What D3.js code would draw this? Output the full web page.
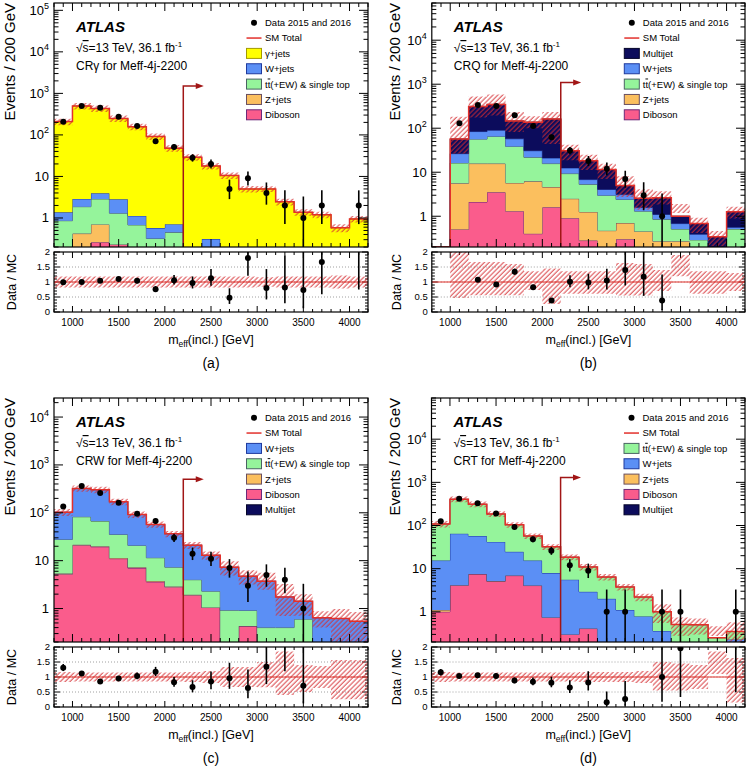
<!DOCTYPE html>
<html>
<head>
<meta charset="utf-8">
<title>Meff-4j-2200 control regions</title>
<script src="https://cdn.jsdelivr.net/npm/d3@7/dist/d3.min.js"></script>
<style>
  body { margin: 0; background: #fff; }
  svg { display: block; font-family: "Liberation Sans", Arial, Helvetica, sans-serif; }
</style>
</head>
<body>
<svg id="mainsvg" width="750" height="771"></svg>
<script>
// 200 GeV bins of m_eff(incl.)
const binEdges = [800, 1000, 1200, 1400, 1600, 1800, 2000, 2200, 2400, 2600, 2800, 3000, 3200, 3400, 3600, 3800, 4000, 4200];
const xTickLabels = [1000, 1500, 2000, 2500, 3000, 3500, 4000];
const ratioTickLabels = [0, 0.5, 1, 1.5, 2];
const cutValue = 2200;

// (a) CR gamma
const aData      = [207, 495, 450, 272, 163, 70, 51, 28, 20, 5, 9, 4, 2, 1, 2, 0, 2];
const aGammaJets = [207.6, 494.1, 428.1, 245.2, 155.9, 91.4, 47.3, 29, 17.5, 10.6, 5.0, 5.0, 2.45, 1.37, 1.2, 0.58, 0.95];
const aWJets     = [0.51, 1.0, 1.06, 1.52, 0.44, 0.25, 0.26, 0, 0.31, 0, 0, 0, 0, 0, 0, 0, 0];
const aTtbar     = [0.86, 1.45, 2.17, 1.07, 0.68, 0.32, 0.45, 0, 0, 0, 0, 0, 0, 0, 0, 0, 0];
const aZJets     = [0, 0.42, 0.44, 0, 0, 0, 0, 0, 0, 0, 0, 0, 0, 0, 0, 0, 0];
const aDiboson   = [0, 0, 0.26, 0.23, 0, 0, 0, 0, 0, 0, 0, 0, 0, 0, 0, 0, 0];
const aUncUp     = [0.18, 0.18, 0.18, 0.18, 0.18, 0.18, 0.18, 0.18, 0.18, 0.18, 0.18, 0.16, 0.18, 0.18, 0.18, 0.22, 0.18];
const aUncDn     = [0.18, 0.18, 0.18, 0.18, 0.18, 0.18, 0.18, 0.18, 0.18, 0.18, 0.18, 0.16, 0.18, 0.18, 0.18, 0.22, 0.18];

// (b) CRQ
const bData      = [0, 130, 336, 320, 196, 113, 62, 31, 18, 12, 7, 3, 1, 0, 0, 0, 0];
const bMultijet  = [0, 30.6, 229, 258, 88.5, 106.2, 141, 18.3, 11.5, 7.4, 1.9, 0.98, 1.53, 0.32, 0.29, 0.34, 0.71];
const bWJets     = [0, 10.2, 27.5, 25, 18.9, 9, 5.3, 3.2, 1.5, 1.1, 0.7, 0.27, 0.25, 0.17, 0.1, 0, 0.05];
const bTtbar     = [0, 10.6, 40.8, 49.3, 32.9, 15.6, 11.1, 6.8, 4.05, 2.5, 1.7, 0.85, 0.58, 0.24, 0.29, 0, 0.51];
const bZJets     = [0, 5.1, 13.6, 12.2, 4.4, 5.8, 3.0, 1.6, 0.97, 0.47, 0.4, 0.45, 0.27, 0.27, 0, 0, 0];
const bDiboson   = [0, 0.5, 2.1, 3.5, 1.3, 0.4, 1.6, 0.9, 0.28, 0, 0.3, 0, 0, 0, 0, 0, 0];
const bUncUp     = [0, 2.2, 0.67, 0.67, 0.6, 0.36, 0.45, 0.36, 0.36, 0.36, 0.63, 0.6, 0.4, 0.9, 0.36, 0.36, 0.3];
const bUncDn     = [0, 0.53, 0.44, 0.44, 0.44, 0.27, 0.73, 0.39, 0.39, 0.39, 0.45, 0.45, 0.3, -0.19, 0.39, 0.39, 0.3];

// (c) CRW
const cData      = [135, 361, 258, 162, 95, 67, 30, 14, 11, 7, 3, 5, 4, 1, 0, 0, 0];
const cWJets     = [75.3, 240.5, 236, 134.8, 71.2, 45.5, 29.1, 17.1, 10.7, 6.38, 3.83, 3.33, 1.35, 0.82, 0.64, 0.62, 0.54];
const cTtbar     = [22.3, 60.9, 46.9, 23.8, 13.5, 7.75, 4.4, 2.05, 1.25, 0.92, 0.48, 0.4, 0.4, 0.6, 0, 0, 0];
const cZJets     = [0.2, 0.6, 0.6, 0.4, 0.3, 0.15, 0.1, 0.05, 0, 0, 0, 0, 0, 0, 0, 0, 0];
const cDiboson   = [5.2, 21, 19.5, 11, 7, 3.6, 2.8, 1.9, 1.05, 0, 0.43, 0, 0, 0, 0, 0, 0];
const cMultijet  = [0, 0, 0, 0, 0, 0, 0, 0, 0, 0, 0, 0, 0, 0, 0, 0, 0];
const cUncUp     = [0.17, 0.15, 0.15, 0.15, 0.15, 0.15, 0.15, 0.17, 0.2, 0.33, 0.33, 0.5, 0.85, 0.4, 0.37, 0.57, 0.57];
const cUncDn     = [0.17, 0.15, 0.15, 0.15, 0.15, 0.15, 0.15, 0.17, 0.2, 0.33, 0.33, 0.34, 0.6, 0.5, 0.37, 0.74, 0.74];

// (d) CRT
const dData      = [126, 419, 329, 191, 92, 48, 26, 12, 9, 1, 1, 0, 1, 1, 0, 0, 1];
const dTtbar     = [93.6, 341.4, 255, 143.3, 79.4, 41.6, 24.1, 12.94, 8.09, 4.4, 2.68, 1.42, 0.64, 0.36, 0.4, 0.15, 0.12];
const dWJets     = [14.3, 60.45, 49.45, 36.55, 17.65, 11.32, 7.16, 5.26, 2.5, 2.0, 1.1, 0.78, 0.36, 0.15, 0.1, 0.1, 0.23];
const dZJets     = [0.1, 0.05, 0.05, 0.05, 0.05, 0.02, 0, 0, 0, 0, 0, 0, 0, 0, 0, 0, 0];
const dDiboson   = [1.0, 4.1, 7.5, 5.1, 6.9, 4.06, 0.74, 0.3, 0.41, 0, 0, 0, 0, 0, 0, 0, 0];
const dMultijet  = [0, 0, 0, 0, 0, 0, 0, 0, 0, 0, 0, 0, 0, 0, 0, 0, 0];
const dUncUp     = [0.17, 0.15, 0.15, 0.15, 0.15, 0.15, 0.15, 0.15, 0.17, 0.17, 0.17, 0.2, 0.5, 0.45, 0.4, 0.85, 0.63];
const dUncDn     = [0.17, 0.15, 0.15, 0.15, 0.15, 0.15, 0.15, 0.15, 0.17, 0.17, 0.17, 0.2, 0.45, 0.45, 0.4, -0.1, 0.85];

const procs = {
    gamma:    { label: 'γ+jets',   fill: '#ffff00', stroke: '#a39a00' },
    wjets:    { label: 'W+jets',   fill: '#5b8ff5', stroke: '#1f3a9e' },
    ttbar:    { label: 'tt',       fill: '#95f49b', stroke: '#4a6363' },
    zjets:    { label: 'Z+jets',   fill: '#fbbf5e', stroke: '#6b4f5f' },
    diboson:  { label: 'Diboson',  fill: '#fa5c8c', stroke: '#6b2a78' },
    multijet: { label: 'Multijet', fill: '#0c0c5c', stroke: '#05052a' }
};

// legend order = top of stack first
const panels = [
    { id: 'a', tag: '(a)', region: 'CRγ for Meff-4j-2200', x0: 54, x1: 368, top: 3, yDomain: [0.2, 1.5e5], arrowTop: 1500,
      titleX: 15, data: aData, unc: [aUncUp, aUncDn],
      stack: [['gamma', aGammaJets], ['wjets', aWJets], ['ttbar', aTtbar], ['zjets', aZJets], ['diboson', aDiboson]] },
    { id: 'b', tag: '(b)', region: 'CRQ for Meff-4j-2200', x0: 431.8, x1: 745, top: 3, yDomain: [0.2, 7e4], arrowTop: 1100,
      titleX: 400, data: bData, unc: [bUncUp, bUncDn],
      stack: [['multijet', bMultijet], ['wjets', bWJets], ['ttbar', bTtbar], ['zjets', bZJets], ['diboson', bDiboson]] },
    { id: 'c', tag: '(c)', region: 'CRW for Meff-4j-2200', x0: 54, x1: 368, top: 398, yDomain: [0.2, 2.5e4], arrowTop: 500,
      titleX: 15, data: cData, unc: [cUncUp, cUncDn],
      stack: [['wjets', cWJets], ['ttbar', cTtbar], ['zjets', cZJets], ['diboson', cDiboson], ['multijet', cMultijet]] },
    { id: 'd', tag: '(d)', region: 'CRT for Meff-4j-2200', x0: 431.5, x1: 745, top: 398, yDomain: [0.2, 9e4], arrowTop: 1300,
      titleX: 400, data: dData, unc: [dUncUp, dUncDn],
      stack: [['ttbar', dTtbar], ['wjets', dWJets], ['zjets', dZJets], ['diboson', dDiboson], ['multijet', dMultijet]] }
];

const svg = d3.select('#mainsvg');
const defs = svg.append('defs');
const hatchColor = '#d42a2e';
defs.append('pattern').attr('id', 'hatch').attr('patternUnits', 'userSpaceOnUse')
    .attr('width', 3.4).attr('height', 3.4).attr('patternTransform', 'rotate(45)')
    .append('line').attr('x1', 1).attr('y1', 0).attr('x2', 1).attr('y2', 3.4)
    .attr('stroke', hatchColor).attr('stroke-width', 0.9);

const smColor = '#e3302b';
const arrowColor = '#a11616';

// 68% Poisson interval limits (Wilson-Hilferty approximation)
function poissonLow(n) {
    if (n <= 0) return 0;
    const t = 1 - 1 / (9 * n) - 1 / (3 * Math.sqrt(n));
    return n * t * t * t;
}
function poissonHigh(n) {
    const m = n + 1;
    const t = 1 - 1 / (9 * m) + 1 / (3 * Math.sqrt(m));
    return m * t * t * t;
}

function drawPanel(p) {
    const nb = binEdges.length - 1;
    const mainBottom = p.top + 244;
    const ratioTop = mainBottom + 5;
    const ratioBottom = ratioTop + 60;
    const x = d3.scaleLinear().domain([800, 4200]).range([p.x0, p.x1]);
    const y = d3.scaleLog().domain(p.yDomain).range([mainBottom, p.top]).clamp(true);
    const yv = v => y(Math.max(v, 1e-4));
    const yr = d3.scaleLinear().domain([0, 2]).range([ratioBottom, ratioTop]);
    const g = svg.append('g');

    defs.append('clipPath').attr('id', 'clipm' + p.id).append('rect')
        .attr('x', p.x0).attr('y', p.top).attr('width', p.x1 - p.x0).attr('height', mainBottom - p.top);
    defs.append('clipPath').attr('id', 'clipr' + p.id).append('rect')
        .attr('x', p.x0).attr('y', ratioTop).attr('width', p.x1 - p.x0).attr('height', ratioBottom - ratioTop);

    const plot = g.append('g').attr('clip-path', `url(#clipm${p.id})`);

    // stacked backgrounds, bottom first
    const total = d3.range(nb).map(i => d3.sum(p.stack, s => s[1][i]));
    let lower = new Array(nb).fill(0);
    p.stack.slice().reverse().forEach(([key, vals]) => {
        const upper = lower.map((l, i) => l + vals[i]);
        const pts = [];
        for (let i = 0; i < nb; i++) {
            pts.push({ x: binEdges[i], lo: lower[i], hi: upper[i] });
            pts.push({ x: binEdges[i + 1], lo: lower[i], hi: upper[i] });
        }
        plot.append('path')
            .attr('d', d3.area().x(d => x(d.x)).y0(d => yv(d.lo)).y1(d => yv(d.hi))(pts))
            .attr('fill', procs[key].fill);
        plot.append('path')
            .attr('d', d3.line().x(d => x(d.x)).y(d => yv(d.hi))(pts))
            .attr('fill', 'none').attr('stroke', procs[key].stroke).attr('stroke-width', 1);
        lower = upper;
    });

    // SM uncertainty band + total
    const bandPts = [];
    const totPts = [];
    for (let i = 0; i < nb; i++) {
        const t = total[i];
        const lo = t > 0 ? t * (1 - p.unc[1][i]) : 0;
        const hi = t > 0 ? t * (1 + p.unc[0][i]) : 0;
        bandPts.push({ x: binEdges[i], lo, hi }, { x: binEdges[i + 1], lo, hi });
        totPts.push({ x: binEdges[i], v: t }, { x: binEdges[i + 1], v: t });
    }
    plot.append('path')
        .attr('d', d3.area().x(d => x(d.x)).y0(d => yv(d.lo)).y1(d => yv(d.hi))(bandPts))
        .attr('fill', 'url(#hatch)');
    plot.append('path')
        .attr('d', d3.line().x(d => x(d.x)).y(d => yv(d.v))(totPts))
        .attr('fill', 'none').attr('stroke', smColor).attr('stroke-width', 1.5);

    // selection cut arrow
    const xc = x(cutValue);
    const ya = y(p.arrowTop);
    const xe = x(cutValue + 200);
    plot.append('path')
        .attr('d', `M${xc},${mainBottom}V${ya}H${xe - 4}`)
        .attr('fill', 'none').attr('stroke', arrowColor).attr('stroke-width', 1.5);
    plot.append('path')
        .attr('d', `M${xe + 2},${ya}L${xe - 6},${ya - 3}L${xe - 6},${ya + 3}Z`)
        .attr('fill', arrowColor);

    // data
    const centers = d3.range(nb).map(i => (binEdges[i] + binEdges[i + 1]) / 2);
    const pts = d3.range(nb).filter(i => p.data[i] > 0);
    plot.selectAll('line.err').data(pts).join('line')
        .attr('x1', i => x(centers[i])).attr('x2', i => x(centers[i]))
        .attr('y1', i => yv(poissonLow(p.data[i])))
        .attr('y2', i => yv(poissonHigh(p.data[i])))
        .attr('stroke', '#000').attr('stroke-width', 1.6);
    plot.selectAll('circle.pt').data(pts).join('circle')
        .attr('cx', i => x(centers[i])).attr('cy', i => y(p.data[i])).attr('r', 3).attr('fill', '#000');

    // main frame and ticks
    g.append('rect').attr('x', p.x0).attr('y', p.top).attr('width', p.x1 - p.x0).attr('height', mainBottom - p.top)
        .attr('fill', 'none').attr('stroke', '#000').attr('stroke-width', 1.2);
    const tk = g.append('g').attr('stroke', '#000').attr('stroke-width', 1);
    d3.range(800, 4201, 100).forEach(v => {
        const L = v % 500 === 0 ? 8 : 4;
        tk.append('line').attr('x1', x(v)).attr('x2', x(v)).attr('y1', mainBottom).attr('y2', mainBottom - L);
        tk.append('line').attr('x1', x(v)).attr('x2', x(v)).attr('y1', p.top).attr('y2', p.top + L);
        const Lr = v % 500 === 0 ? 6 : 3;
        tk.append('line').attr('x1', x(v)).attr('x2', x(v)).attr('y1', ratioBottom).attr('y2', ratioBottom - Lr);
        tk.append('line').attr('x1', x(v)).attr('x2', x(v)).attr('y1', ratioTop).attr('y2', ratioTop + Lr);
    });
    const labelsY = g.append('g').attr('font-size', 13).attr('text-anchor', 'end');
    for (let e = -1; e <= 5; e++) {
        for (let k = 1; k <= 9; k++) {
            const v = k * Math.pow(10, e);
            if (v < p.yDomain[0] || v > p.yDomain[1]) continue;
            const L = k === 1 ? 9 : 4.5;
            tk.append('line').attr('x1', p.x0).attr('x2', p.x0 + L).attr('y1', y(v)).attr('y2', y(v));
            tk.append('line').attr('x1', p.x1).attr('x2', p.x1 - L).attr('y1', y(v)).attr('y2', y(v));
            if (k === 1 && e >= 0) {
                if (e <= 1) {
                    labelsY.append('text').attr('x', p.x0 - 5).attr('y', y(v) + 4.5).text(v);
                } else {
                    const t = labelsY.append('text').attr('x', p.x0 - 5).attr('y', y(v) + 4.5);
                    t.append('tspan').text('10');
                    t.append('tspan').attr('dy', -6).attr('font-size', 9).text(e);
                }
            }
        }
    }

    // y title
    g.append('text').attr('transform', `translate(${p.titleX},${p.top}) rotate(-90)`)
        .attr('text-anchor', 'end').attr('font-size', 15).text('Events / 200 GeV');

    // labels inside the frame
    const tx = p.x0 + 22;
    g.append('text').attr('x', tx).attr('y', p.top + 29).attr('font-size', 15)
        .attr('font-weight', 'bold').attr('font-style', 'italic').text('ATLAS');
    const s = g.append('text').attr('x', tx).attr('y', p.top + 49).attr('font-size', 12);
    s.append('tspan').text('√');
    s.append('tspan').style('text-decoration', 'overline').text('s');
    s.append('tspan').text('=13 TeV, 36.1 fb');
    s.append('tspan').attr('dy', -5).attr('font-size', 8).text('-1');
    g.append('text').attr('x', tx).attr('y', p.top + 66.5).attr('font-size', 12).text(p.region);

    // legend
    const lx = p.x0 + 192.5;
    const entries = [{ type: 'data', label: 'Data 2015 and 2016' }, { type: 'sm', label: 'SM Total' }]
        .concat(p.stack.map(sv => ({ type: 'proc', key: sv[0] })));
    entries.forEach((en, i) => {
        const cy = p.top + 19.7 + i * 15.35;
        if (en.type === 'data') {
            g.append('circle').attr('cx', lx + 7.5).attr('cy', cy).attr('r', 3).attr('fill', '#000');
        } else if (en.type === 'sm') {
            g.append('line').attr('x1', lx).attr('x2', lx + 15).attr('y1', cy).attr('y2', cy)
                .attr('stroke', smColor).attr('stroke-width', 1.5);
        } else {
            g.append('rect').attr('x', lx).attr('y', cy - 5).attr('width', 15).attr('height', 10)
                .attr('fill', procs[en.key].fill).attr('stroke', procs[en.key].stroke).attr('stroke-width', 1);
        }
        const t = g.append('text').attr('x', lx + 18.5).attr('y', cy + 3.4).attr('font-size', 9.5);
        if (en.type === 'proc' && en.key === 'ttbar') {
            t.append('tspan').text('t');
            t.append('tspan').style('text-decoration', 'overline').text('t');
            t.append('tspan').text('(+EW) & single top');
        } else {
            t.text(en.label || procs[en.key].label);
        }
    });

    // ratio panel
    const rp = g.append('g').attr('clip-path', `url(#clipr${p.id})`);
    [0.5, 1, 1.5].forEach(v => {
        rp.append('line').attr('x1', p.x0).attr('x2', p.x1).attr('y1', yr(v)).attr('y2', yr(v))
            .attr('stroke', '#888').attr('stroke-width', 0.8).attr('stroke-dasharray', '1,2');
    });
    const rb = [];
    for (let i = 0; i < nb; i++) {
        const has = total[i] > 0;
        const lo = has ? 1 - p.unc[1][i] : 1;
        const hi = has ? 1 + p.unc[0][i] : 1;
        rb.push({ x: binEdges[i], lo, hi }, { x: binEdges[i + 1], lo, hi });
    }
    rp.append('path')
        .attr('d', d3.area().x(d => x(d.x)).y0(d => yr(d.lo)).y1(d => yr(d.hi))(rb))
        .attr('fill', 'url(#hatch)');
    rp.append('line').attr('x1', p.x0).attr('x2', p.x1).attr('y1', yr(1)).attr('y2', yr(1))
        .attr('stroke', smColor).attr('stroke-width', 1);
    const rpts = pts.filter(i => total[i] > 0);
    rp.selectAll('line.rerr').data(rpts).join('line')
        .attr('x1', i => x(centers[i])).attr('x2', i => x(centers[i]))
        .attr('y1', i => yr(poissonLow(p.data[i]) / total[i]))
        .attr('y2', i => yr(poissonHigh(p.data[i]) / total[i]))
        .attr('stroke', '#000').attr('stroke-width', 1.6);
    rp.selectAll('circle.rpt').data(rpts.filter(i => p.data[i] / total[i] <= 2)).join('circle')
        .attr('cx', i => x(centers[i])).attr('cy', i => yr(p.data[i] / total[i])).attr('r', 3).attr('fill', '#000');

    g.append('rect').attr('x', p.x0).attr('y', ratioTop).attr('width', p.x1 - p.x0).attr('height', ratioBottom - ratioTop)
        .attr('fill', 'none').attr('stroke', '#000').attr('stroke-width', 1.2);
    d3.range(0, 2.001, 0.1).forEach(v => {
        const major = Math.abs(v * 2 - Math.round(v * 2)) < 1e-6;
        const L = major ? 6 : 3;
        tk.append('line').attr('x1', p.x0).attr('x2', p.x0 + L).attr('y1', yr(v)).attr('y2', yr(v));
        tk.append('line').attr('x1', p.x1).attr('x2', p.x1 - L).attr('y1', yr(v)).attr('y2', yr(v));
    });
    g.append('g').attr('font-size', 9.5).attr('text-anchor', 'end')
        .selectAll('text').data(ratioTickLabels).join('text')
        .attr('x', p.x0 - 4).attr('y', v => yr(v) + 3.4).text(v => v);
    g.append('g').attr('font-size', 10).attr('text-anchor', 'middle')
        .selectAll('text').data(xTickLabels).join('text')
        .attr('x', v => x(v)).attr('y', ratioBottom + 14).text(v => v);
    g.append('text').attr('transform', `translate(${p.titleX + 1},${(ratioTop + ratioBottom) / 2}) rotate(-90)`)
        .attr('text-anchor', 'middle').attr('font-size', 12.5).text('Data / MC');

    const xt = g.append('text').attr('x', (p.x0 + p.x1) / 2).attr('y', ratioBottom + 32)
        .attr('text-anchor', 'middle').attr('font-size', 12.5);
    xt.append('tspan').text('m');
    xt.append('tspan').attr('dy', 3).attr('font-size', 8.5).text('eff');
    xt.append('tspan').attr('dy', -3).text('(incl.) [GeV]');

    g.append('text').attr('x', (p.x0 + p.x1) / 2).attr('y', ratioBottom + 56)
        .attr('text-anchor', 'middle').attr('font-size', 14).text(p.tag);
}

panels.forEach(drawPanel);
</script>
</body>
</html>
